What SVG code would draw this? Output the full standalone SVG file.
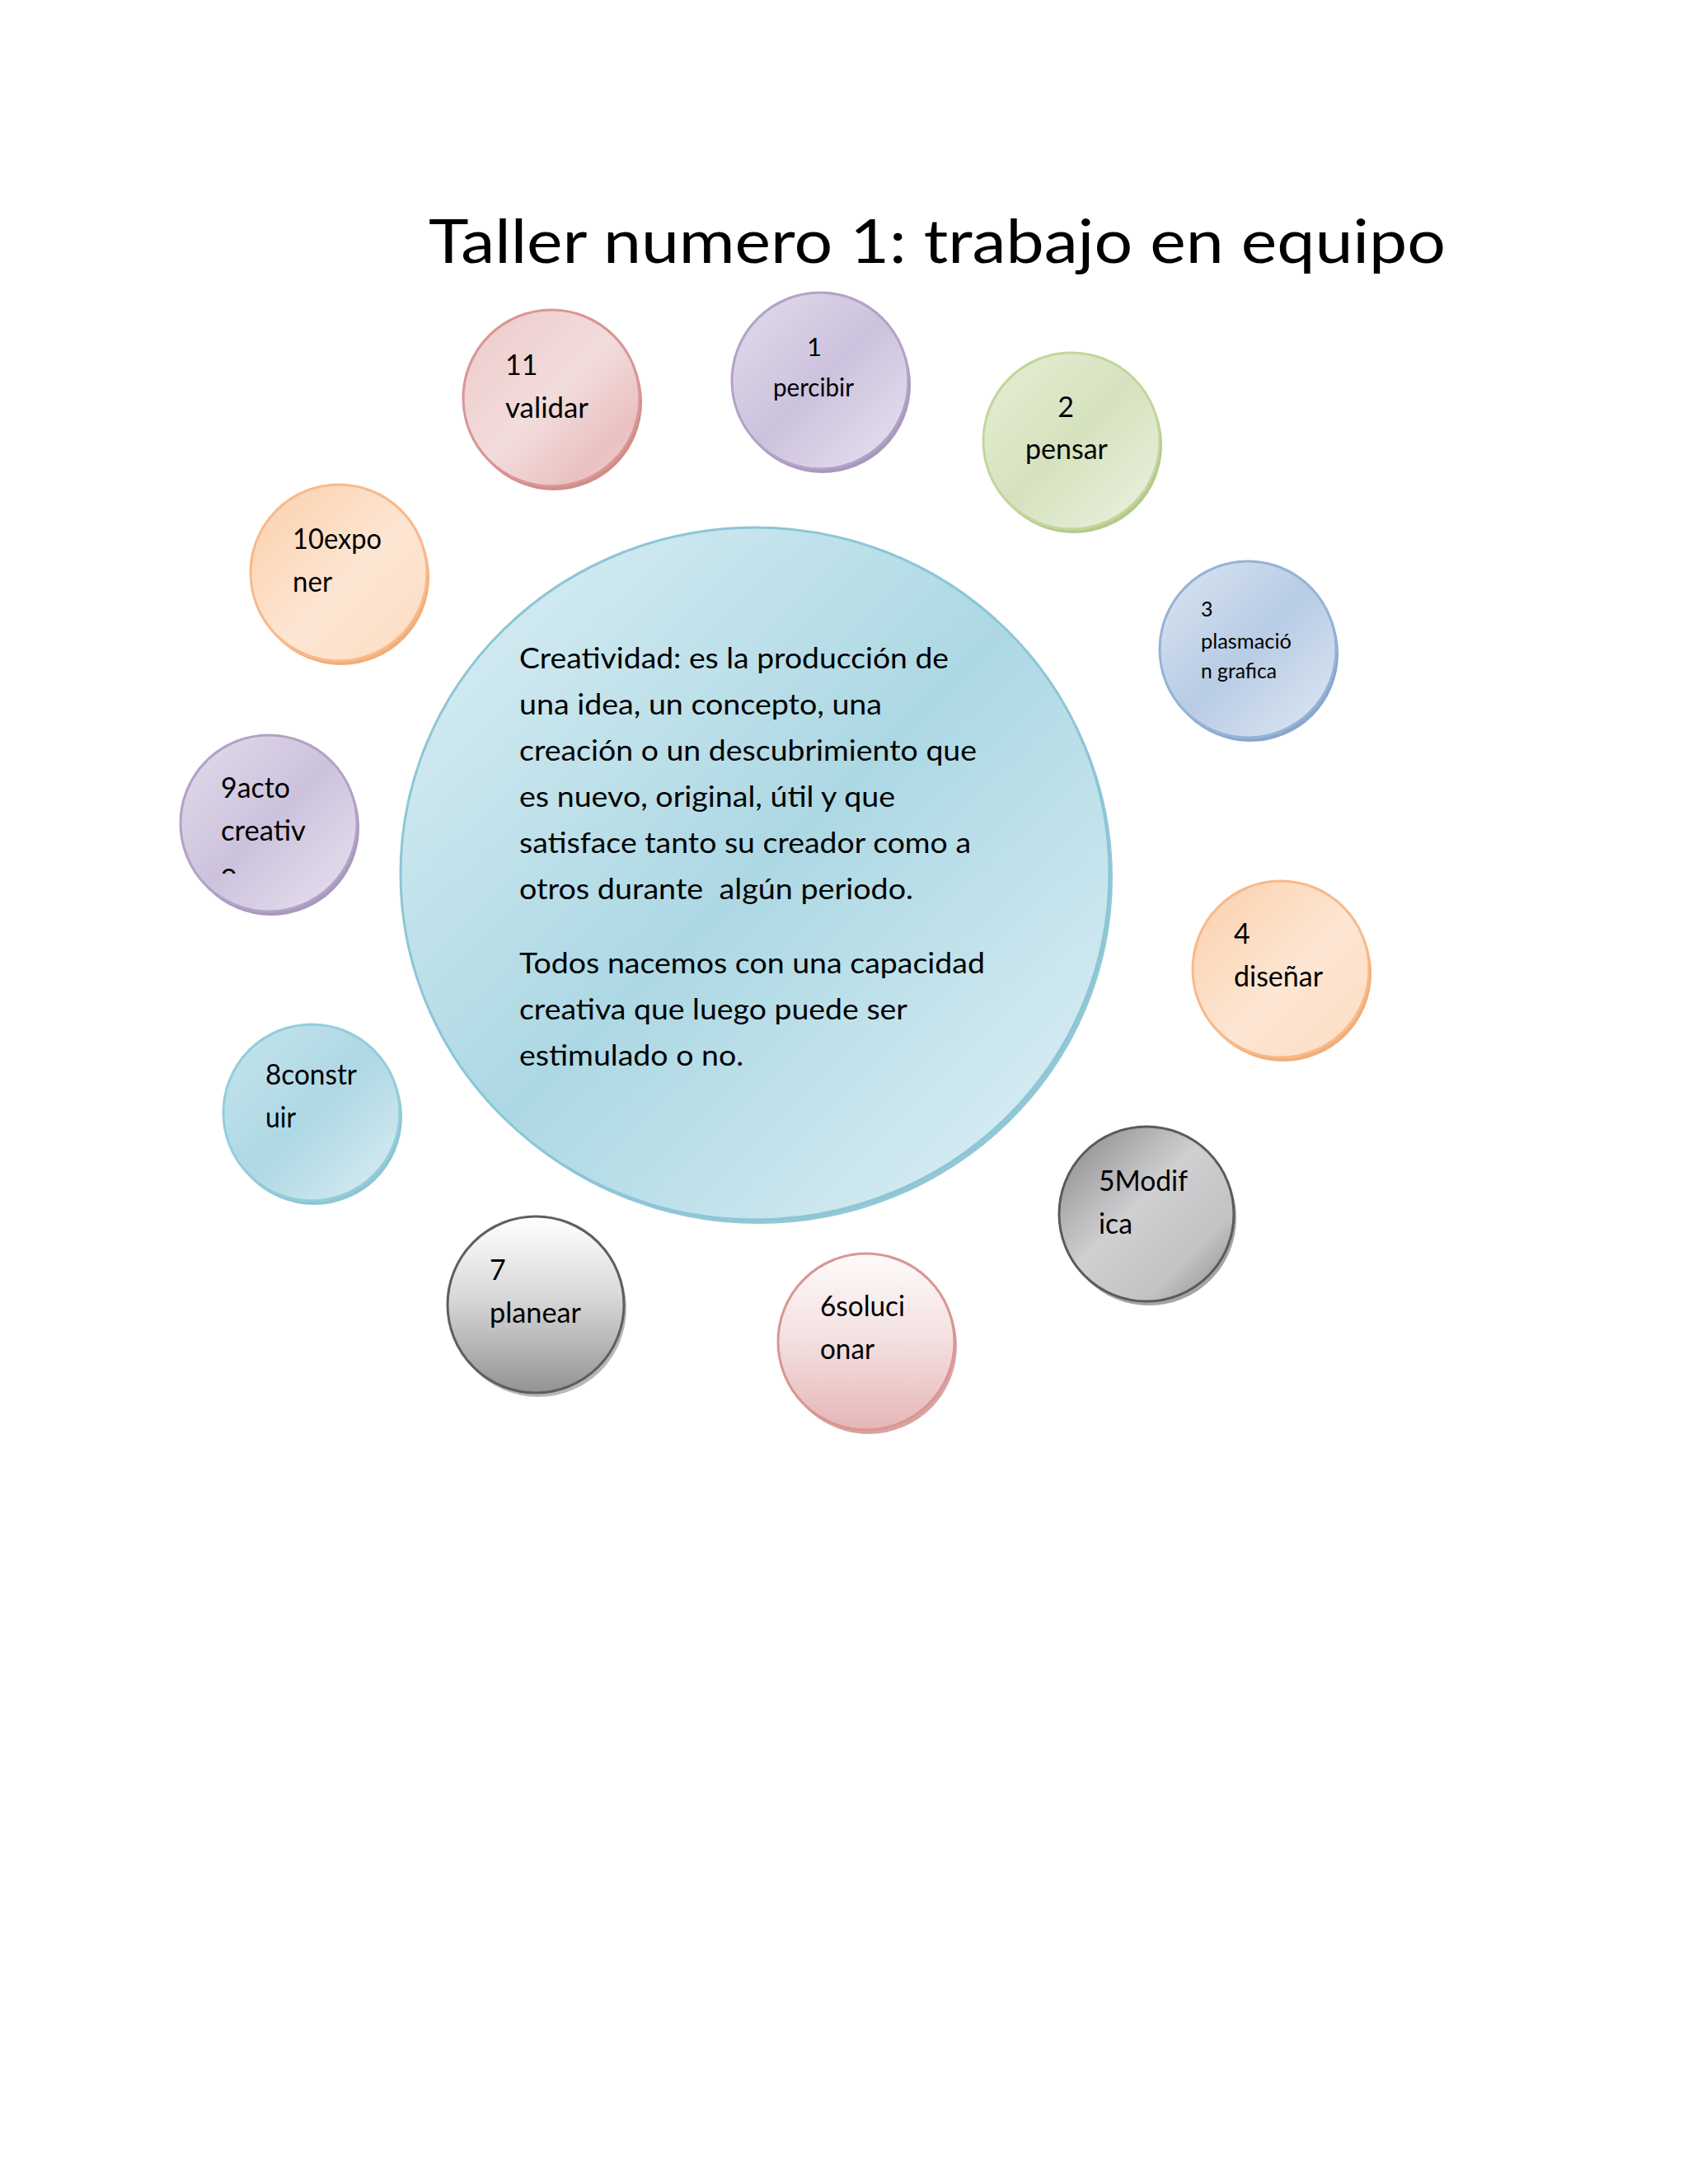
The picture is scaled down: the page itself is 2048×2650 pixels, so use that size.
<svg xmlns="http://www.w3.org/2000/svg" width="2048" height="2650" viewBox="0 0 2048 2650">
<style>
  text { font-family: Lato, "Open Sans", "Liberation Sans", sans-serif; fill: #000; }
  .title { font-size: 74px; }
  .body { font-size: 34px; white-space: pre; }
  .lbl { font-size: 34px; }
  .lblm { font-size: 31px; }
  .lbls { font-size: 25px; }
</style>
<defs>
  <linearGradient id="gBlue" x1="0" y1="0" x2="1" y2="1">
    <stop offset="0" stop-color="#dff0f5"/>
    <stop offset="0.5" stop-color="#acd8e4"/>
    <stop offset="1" stop-color="#e2f1f6"/>
  </linearGradient>
  <linearGradient id="gRed" x1="0" y1="0" x2="1" y2="1">
    <stop offset="0" stop-color="#eccac9"/>
    <stop offset="0.5" stop-color="#f3dcdc"/>
    <stop offset="0.8" stop-color="#e9c1c0"/>
    <stop offset="1" stop-color="#f2d8d8"/>
  </linearGradient>
  <linearGradient id="gPurple" x1="0" y1="0" x2="1" y2="1">
    <stop offset="0" stop-color="#e2dceb"/>
    <stop offset="0.5" stop-color="#cdc2dd"/>
    <stop offset="1" stop-color="#e9e3f0"/>
  </linearGradient>
  <linearGradient id="gGreen" x1="0" y1="0" x2="1" y2="1">
    <stop offset="0" stop-color="#e6eed6"/>
    <stop offset="0.5" stop-color="#d6e2be"/>
    <stop offset="1" stop-color="#ecf2e2"/>
  </linearGradient>
  <linearGradient id="gSteel" x1="0" y1="0" x2="1" y2="1">
    <stop offset="0" stop-color="#dce5f1"/>
    <stop offset="0.5" stop-color="#b8cce5"/>
    <stop offset="1" stop-color="#e0e8f3"/>
  </linearGradient>
  <linearGradient id="gOrange" x1="0" y1="0" x2="1" y2="1">
    <stop offset="0" stop-color="#fbcfab"/>
    <stop offset="0.55" stop-color="#fde6d3"/>
    <stop offset="1" stop-color="#fcdcc2"/>
  </linearGradient>
  <linearGradient id="gAqua" x1="0" y1="0" x2="1" y2="1">
    <stop offset="0" stop-color="#c5e5ed"/>
    <stop offset="0.5" stop-color="#aed8e4"/>
    <stop offset="1" stop-color="#dbeef4"/>
  </linearGradient>
  <linearGradient id="gGrayDark" x1="0" y1="0" x2="1" y2="1">
    <stop offset="0" stop-color="#848486"/>
    <stop offset="0.45" stop-color="#d0d0d2"/>
    <stop offset="0.75" stop-color="#c2c2c4"/>
    <stop offset="1" stop-color="#858587"/>
  </linearGradient>
  <linearGradient id="gGrayV" x1="0" y1="0" x2="0" y2="1">
    <stop offset="0" stop-color="#ffffff"/>
    <stop offset="0.45" stop-color="#d9d9da"/>
    <stop offset="1" stop-color="#939395"/>
  </linearGradient>
  <linearGradient id="gPinkV" x1="0" y1="0" x2="0" y2="1">
    <stop offset="0" stop-color="#fefafa"/>
    <stop offset="0.5" stop-color="#f3dfdf"/>
    <stop offset="1" stop-color="#e6b6b6"/>
  </linearGradient>
  <clipPath id="clip9">
    <rect x="220" y="880" width="220" height="180"/>
  </clipPath>
</defs>

<rect x="0" y="0" width="2048" height="2650" fill="#ffffff"/>

<g id="title">
  <text class="title" x="520" y="319" textLength="1234" lengthAdjust="spacingAndGlyphs">Taller numero 1: trabajo en equipo</text>
</g>

<g id="connectors"></g>

<g id="center">
  <ellipse cx="920" cy="1065" rx="430" ry="420" fill="#93c7d6"/>
  <ellipse cx="916" cy="1060" rx="430" ry="420" fill="url(#gBlue)" stroke="#8cc6d6" stroke-width="3"/>
  <text class="body" x="630" y="811" textLength="521" lengthAdjust="spacingAndGlyphs">Creatividad: es la producción de</text>
  <text class="body" x="630" y="867" textLength="440" lengthAdjust="spacingAndGlyphs">una idea, un concepto, una</text>
  <text class="body" x="630" y="923" textLength="555" lengthAdjust="spacingAndGlyphs">creación o un descubrimiento que</text>
  <text class="body" x="630" y="979" textLength="456" lengthAdjust="spacingAndGlyphs">es nuevo, original, útil y que</text>
  <text class="body" x="630" y="1035" textLength="548" lengthAdjust="spacingAndGlyphs">satisface tanto su creador como a</text>
  <text class="body" x="630" y="1091" textLength="478" lengthAdjust="spacingAndGlyphs">otros durante  algún periodo.</text>
  <text class="body" x="630" y="1181" textLength="565" lengthAdjust="spacingAndGlyphs">Todos nacemos con una capacidad</text>
  <text class="body" x="630" y="1237" textLength="471" lengthAdjust="spacingAndGlyphs">creativa que luego puede ser</text>
  <text class="body" x="630" y="1293" textLength="272" lengthAdjust="spacingAndGlyphs">estimulado o no.</text>
</g>

<g id="node1">
  <circle cx="998" cy="467" r="107" fill="#a898bd"/>
  <circle cx="995" cy="462" r="107" fill="url(#gPurple)" stroke="#b3a2c7" stroke-width="3"/>
  <text class="lblm" x="988" y="432" text-anchor="middle">1</text>
  <text class="lblm" x="987" y="481" text-anchor="middle" textLength="98" lengthAdjust="spacingAndGlyphs">percibir</text>
</g>

<g id="node2">
  <circle cx="1303" cy="540" r="107" fill="#b5c98a"/>
  <circle cx="1300" cy="535" r="107" fill="url(#gGreen)" stroke="#c3d69b" stroke-width="3"/>
  <text class="lbl" x="1293" y="506" text-anchor="middle">2</text>
  <text class="lbl" x="1294" y="557" text-anchor="middle" textLength="100" lengthAdjust="spacingAndGlyphs">pensar</text>
</g>

<g id="node3">
  <circle cx="1517" cy="793" r="107" fill="#8aa6cc"/>
  <circle cx="1514" cy="788" r="107" fill="url(#gSteel)" stroke="#95b3d7" stroke-width="3"/>
  <text class="lbls" x="1457" y="748">3</text>
  <text class="lbls" x="1457" y="787" textLength="110" lengthAdjust="spacingAndGlyphs">plasmació</text>
  <text class="lbls" x="1457" y="823" textLength="92" lengthAdjust="spacingAndGlyphs">n grafica</text>
</g>

<g id="node4">
  <circle cx="1557" cy="1181" r="107" fill="#f0ae78"/>
  <circle cx="1554" cy="1176" r="107" fill="url(#gOrange)" stroke="#f9b98a" stroke-width="3"/>
  <text class="lbl" x="1497" y="1145">4</text>
  <text class="lbl" x="1497" y="1197" textLength="108" lengthAdjust="spacingAndGlyphs">diseñar</text>
</g>

<g id="node5">
  <circle cx="1394" cy="1478" r="106" fill="#a5a5a7"/>
  <circle cx="1391" cy="1473" r="106" fill="url(#gGrayDark)" stroke="#5a5a5a" stroke-width="3"/>
  <text class="lbl" x="1333" y="1445" textLength="108" lengthAdjust="spacingAndGlyphs">5Modif</text>
  <text class="lbl" x="1333" y="1497" textLength="41" lengthAdjust="spacingAndGlyphs">ica</text>
</g>

<g id="node6">
  <circle cx="1054" cy="1633" r="107" fill="#d9a3a3"/>
  <circle cx="1051" cy="1628" r="107" fill="url(#gPinkV)" stroke="#d99694" stroke-width="3"/>
  <text class="lbl" x="995" y="1597" textLength="103" lengthAdjust="spacingAndGlyphs">6soluci</text>
  <text class="lbl" x="995" y="1649" textLength="66" lengthAdjust="spacingAndGlyphs">onar</text>
</g>

<g id="node7">
  <circle cx="653" cy="1588" r="107" fill="#b8b8ba"/>
  <circle cx="650" cy="1583" r="107" fill="url(#gGrayV)" stroke="#5f5f5f" stroke-width="3"/>
  <text class="lbl" x="594" y="1553">7</text>
  <text class="lbl" x="594" y="1605" textLength="111" lengthAdjust="spacingAndGlyphs">planear</text>
</g>

<g id="node8">
  <circle cx="381" cy="1355" r="107" fill="#8ec5d4"/>
  <circle cx="378" cy="1350" r="107" fill="url(#gAqua)" stroke="#93cddd" stroke-width="3"/>
  <text class="lbl" x="322" y="1316" textLength="111" lengthAdjust="spacingAndGlyphs">8constr</text>
  <text class="lbl" x="322" y="1368" textLength="37" lengthAdjust="spacingAndGlyphs">uir</text>
</g>

<g id="node9">
  <circle cx="329" cy="1004" r="107" fill="#a898bd"/>
  <circle cx="326" cy="999" r="107" fill="url(#gPurple)" stroke="#b3a2c7" stroke-width="3"/>
  <text class="lbl" x="268" y="968" textLength="84" lengthAdjust="spacingAndGlyphs">9acto</text>
  <text class="lbl" x="268" y="1020" textLength="103" lengthAdjust="spacingAndGlyphs">creativ</text>
  <text class="lbl" x="268" y="1072" clip-path="url(#clip9)">o</text>
</g>

<g id="node10">
  <circle cx="414" cy="700" r="107" fill="#f0ae78"/>
  <circle cx="411" cy="695" r="107" fill="url(#gOrange)" stroke="#f9b98a" stroke-width="3"/>
  <text class="lbl" x="355" y="666" textLength="108" lengthAdjust="spacingAndGlyphs">10expo</text>
  <text class="lbl" x="355" y="718" textLength="48" lengthAdjust="spacingAndGlyphs">ner</text>
</g>

<g id="node11">
  <circle cx="672" cy="488" r="107" fill="#cf8e8c"/>
  <circle cx="669" cy="483" r="107" fill="url(#gRed)" stroke="#d99694" stroke-width="3"/>
  <text class="lbl" x="613" y="455">11</text>
  <text class="lbl" x="613" y="507" textLength="101" lengthAdjust="spacingAndGlyphs">validar</text>
</g>
</svg>
